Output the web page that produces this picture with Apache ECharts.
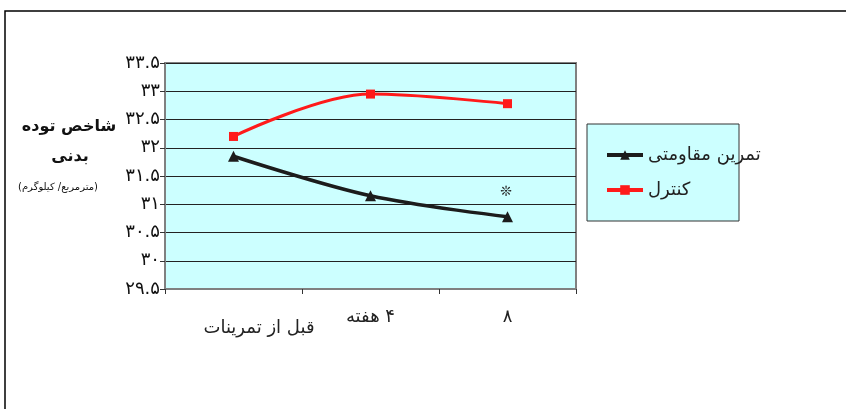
<!DOCTYPE html>
<html>
<head>
<meta charset="utf-8">
<script src="https://cdn.jsdelivr.net/npm/echarts@6/dist/echarts.min.js"></script>
<style>
html,body{margin:0;padding:0;background:#fff;}
#c{width:846px;height:409px;}
</style>
</head>
<body>
<div id="c"></div>
<script>
const categories = ['قبل از تمرینات', '\u200F۴ هفته', '۸'];
const resistanceValues = [31.85, 31.15, 30.78];
const controlValues = [32.2, 32.95, 32.78];
const seriesNames = ['تمرین مقاومتی', 'کنترل'];
const yTickValues = [29.5, 30, 30.5, 31, 31.5, 32, 32.5, 33, 33.5];
const yTickLabels = ['۲۹.۵', '۳۰', '۳۰.۵', '۳۱', '۳۱.۵', '۳۲', '۳۲.۵', '۳۳', '۳۳.۵'];
const yTitleLines = ['شاخص توده', 'بدنی'];
const yUnit = '(مترمربع/ کیلوگرم)';
const sigMark = '❊';

const FONT = '"DejaVu Sans", "Noto Sans", sans-serif';
const chart = echarts.init(document.getElementById('c'));
chart.setOption({
  animation: false,
  backgroundColor: '#fff',
  textStyle: { fontFamily: FONT },
  grid: { left: 165, right: 270, top: 63, bottom: 120, show: true, backgroundColor: '#ccffff', borderColor: '#808080', borderWidth: 2 },
  xAxis: {
    type: 'category',
    data: categories,
    boundaryGap: true,
    axisLine: { lineStyle: { color: '#808080', width: 2 } },
    axisTick: { show: true, length: 5, interval: 0, lineStyle: { color: '#333' } },
    axisLabel: {
      interval: 0,
      hideOverlap: false,
      margin: 19,
      color: '#222',
      fontSize: 18,
      fontFamily: FONT,
      formatter: function (v, i) { return i === 0 ? '{a|' + v + '}' : '{b|' + v + '}'; },
      rich: {
        a: { fontSize: 18, color: '#222', fontFamily: FONT, padding: [11, 0, 0, 51] },
        b: { fontSize: 18, color: '#222', fontFamily: FONT }
      }
    }
  },
  yAxis: {
    type: 'value',
    min: 29.5,
    max: 33.5,
    interval: 0.5,
    axisLine: { show: true, lineStyle: { color: '#808080', width: 2 } },
    axisTick: { show: true, length: 5, lineStyle: { color: '#333' } },
    splitLine: { show: true, lineStyle: { color: '#222', width: 1 } },
    axisLabel: {
      margin: 5,
      color: '#111',
      fontSize: 18,
      fontFamily: FONT,
      formatter: function (v) {
        const i = yTickValues.findIndex(t => Math.abs(t - v) < 1e-6);
        return i >= 0 ? yTickLabels[i] : '';
      }
    }
  },
  legend: {
    left: 600,
    top: 141,
    orient: 'vertical',
    itemWidth: 36,
    itemHeight: 12,
    itemGap: 17,
    lineStyle: { width: 4 },
    textStyle: { fontSize: 18, color: '#222', fontFamily: FONT },
    data: seriesNames
  },
  graphic: [
    { type: 'rect', z: 1, shape: { x: 5, y: 11, width: 900, height: 500 }, style: { fill: 'none', stroke: '#000', lineWidth: 1.5 } },
    { type: 'rect', z: 1, shape: { x: 587, y: 124, width: 152, height: 97 }, style: { fill: '#ccffff', stroke: '#333', lineWidth: 1 } },
    { type: 'text', z: 5, x: 69, y: 127, style: { text: yTitleLines[0], font: 'bold 16px ' + FONT, fill: '#111', align: 'center', verticalAlign: 'middle' } },
    { type: 'text', z: 5, x: 70, y: 157, style: { text: yTitleLines[1], font: 'bold 16px ' + FONT, fill: '#111', align: 'center', verticalAlign: 'middle' } },
    { type: 'text', z: 5, x: 58, y: 187, style: { text: yUnit, font: '10px ' + FONT, fill: '#111', align: 'center', verticalAlign: 'middle' } },
    { type: 'text', z: 5, x: 506, y: 192, style: { text: sigMark, font: '14px ' + FONT, fill: '#222', align: 'center', verticalAlign: 'middle' } }
  ],
  series: [
    {
      name: seriesNames[0],
      type: 'line',
      data: resistanceValues,
      smooth: 0.35,
      symbol: 'triangle',
      symbolSize: 11,
      itemStyle: { color: '#1c1c1c' },
      lineStyle: { color: '#1c1c1c', width: 3.5 }
    },
    {
      name: seriesNames[1],
      type: 'line',
      data: controlValues,
      smooth: 0.35,
      symbol: 'rect',
      symbolSize: 9,
      itemStyle: { color: '#ff1a1a' },
      lineStyle: { color: '#ff1a1a', width: 3 }
    }
  ]
});
</script>
</body>
</html>
